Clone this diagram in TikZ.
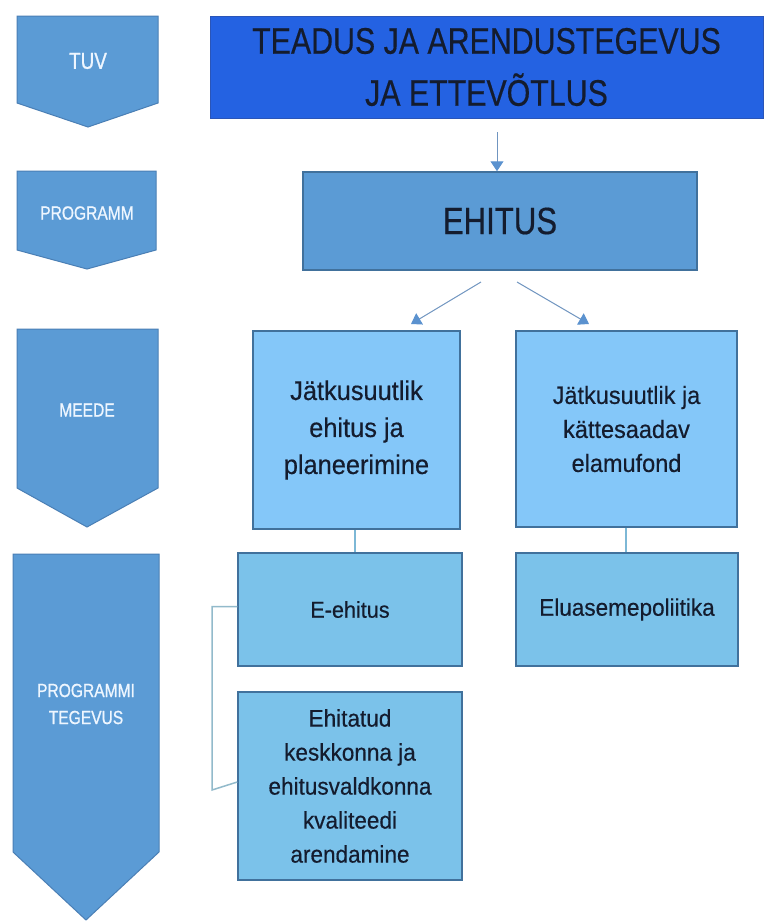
\documentclass[tikz,border=0pt]{standalone}
\usepackage{fontspec}
\setmainfont[FakeBold=0.6]{Liberation Sans}
\newfontfamily\boxfont[FakeStretch=0.94,FakeBold=0.4]{Liberation Sans}
\newfontfamily\condfont[FakeStretch=0.82,FakeBold=0.4]{Liberation Sans}
\newfontfamily\chevfont[FakeStretch=0.82,FakeBold=0.9]{Liberation Sans}
\usetikzlibrary{arrows.meta}
\definecolor{chev}{HTML}{5B9BD5}
\definecolor{chevline}{HTML}{4A7FB5}
\definecolor{bright}{HTML}{2462E2}
\definecolor{brightline}{HTML}{2A55B8}
\definecolor{meede}{HTML}{84C7F9}
\definecolor{teg}{HTML}{7BC2EA}
\definecolor{boxline}{HTML}{41719C}
\definecolor{txt}{HTML}{141C2E}
\definecolor{chevtxt}{HTML}{EEF6FF}
\definecolor{arr}{HTML}{7095C0}
\definecolor{arrhead}{HTML}{5B92CF}
\definecolor{conn}{HTML}{7DB8D6}
\definecolor{brk}{HTML}{92BACB}
\begin{document}
\begin{tikzpicture}[x=1pt,y=-1pt,
  chevron/.style={fill=chev,draw=chevline,line width=1pt},
  chevtext/.style={text=chevtxt,font=\chevfont\fontsize{19}{27}\selectfont,align=center,inner sep=0pt},
  boxstyle/.style={draw=boxline,line width=1.5pt,inner sep=0pt,align=center,text=txt},
  arrline/.style={draw=arr,line width=1pt,-{Triangle[width=13pt,length=10pt,fill=arrhead,color=arrhead]}},
  connline/.style={draw=conn,line width=1.5pt},
  brkline/.style={draw=brk,line width=1.5pt}]
\useasboundingbox (0,0) rectangle (765,922);
\fill[white] (0,0) rectangle (765,922);

% chevrons
\draw[chevron] (17,16) -- (158,16) -- (158,103) -- (88,127) -- (17,103) -- cycle;
\node[chevtext,font=\chevfont\fontsize{23}{27}\selectfont] (tuv) at (88,61) {TUV};
\draw[chevron] (17,171) -- (156,171) -- (156,250) -- (87,269) -- (17,250) -- cycle;
\node[chevtext] (prog) at (87,213) {PROGRAMM};
\draw[chevron] (17,329) -- (158,329) -- (158,488) -- (87,527) -- (17,488) -- cycle;
\node[chevtext] (meedelbl) at (87,410) {MEEDE};
\draw[chevron] (13,554) -- (159,554) -- (159,852) -- (86,920) -- (13,852) -- cycle;
\node[chevtext] (tegevlbl) at (86,704) {PROGRAMMI\\TEGEVUS};

% boxes
\node[boxstyle,fill=bright,draw=brightline,line width=1pt,minimum width=553pt,minimum height=102pt,
  font=\condfont\fontsize{37}{52}\selectfont] (tja) at (486.5,67) {TEADUS JA ARENDUSTEGEVUS\\JA ETTEVÕTLUS};
\node[boxstyle,fill=chev,minimum width=394pt,minimum height=98pt,
  font=\condfont\fontsize{38}{52}\selectfont] (eh) at (500,221) {EHITUS};
\node[boxstyle,fill=meede,minimum width=207pt,minimum height=198pt,
  font=\boxfont\fontsize{27}{37}\selectfont] (m1) at (356.5,430) {Jätkusuutlik\\ehitus ja\\planeerimine};
\node[boxstyle,fill=meede,minimum width=221pt,minimum height=196pt,
  font=\boxfont\fontsize{25}{34}\selectfont] (m2) at (626.5,429) {Jätkusuutlik ja\\kättesaadav\\elamufond};
\node[boxstyle,fill=teg,minimum width=224pt,minimum height=113pt,
  font=\boxfont\fontsize{23}{32}\selectfont] (t1) at (350,609.5) {E-ehitus};
\node[boxstyle,fill=teg,minimum width=222pt,minimum height=113pt,
  font=\boxfont\fontsize{24}{32}\selectfont] (t2) at (627,609.5) {Eluasemepoliitika};
\node[boxstyle,fill=teg,minimum width=224pt,minimum height=188pt,
  font=\boxfont\fontsize{24}{34}\selectfont] (t3) at (350,786) {Ehitatud\\keskkonna ja\\ehitusvaldkonna\\kvaliteedi\\arendamine};

% connectors
\coordinate (a0s) at (497,132);
\draw[arrline] (a0s) -- (a0s |- eh.north);
\coordinate (a1s) at (481,282);
\coordinate (a1e) at (411,324);
\coordinate (a2s) at (517,282);
\coordinate (a2e) at (589,324);
\draw[arrline] (a1s) -- (a1e);
\draw[arrline] (a2s) -- (a2e);
\coordinate (cx1) at (355,0);
\coordinate (cx2) at (626,0);
\coordinate (bx) at (212,790);
\draw[connline] (m1.south -| cx1) -- (t1.north -| cx1);
\draw[connline] (m2.south -| cx2) -- (t2.north -| cx2);
\draw[brkline] ([yshift=3pt]t1.west) -| (bx) -- ([yshift=4pt]t3.west);
\end{tikzpicture}
\end{document}
